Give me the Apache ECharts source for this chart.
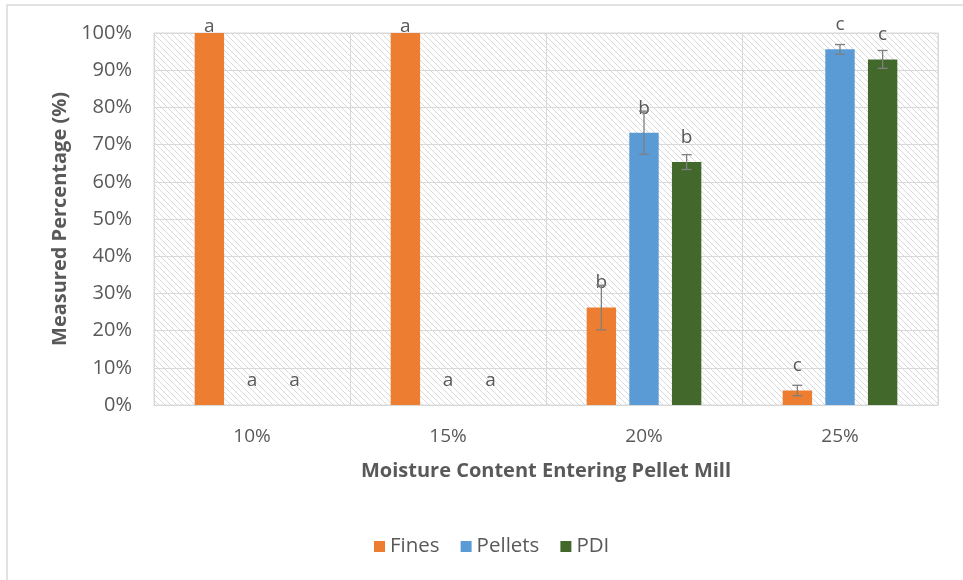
<!DOCTYPE html>
<html>
<head>
<meta charset="utf-8">
<script src="https://cdn.jsdelivr.net/npm/echarts@6/dist/echarts.min.js"></script>
<style>
html,body{margin:0;padding:0;background:#fff;}
#chart{width:963px;height:580px;}
</style>
</head>
<body>
<div id="chart"></div>
<script>
// ---- data ----
const categories = ['10%', '15%', '20%', '25%'];
const seriesNames = ['Fines', 'Pellets', 'PDI'];
const finesValues = [100, 100, 26.2, 3.9];
const pelletsValues = [0, 0, 73.2, 95.6];
const pdiValues = [0, 0, 65.3, 92.9];
const finesErr = [0, 0, 6, 1.4];
const pelletsErr = [0, 0, 5.8, 1.3];
const pdiErr = [0, 0, 2.0, 2.4];
const finesLetters = ['a', 'a', 'b', 'c'];
const pelletsLetters = ['a', 'a', 'b', 'c'];
const pdiLetters = ['a', 'a', 'b', 'c'];
const yTicks = [0, 10, 20, 30, 40, 50, 60, 70, 80, 90, 100];

// ---- styling ----
const colors = ['#ED7D31', '#5B9BD5', '#43682B'];
const FONT = '"Open Sans", "Noto Sans", sans-serif';
const TXT = '#595959';

// hatch pattern
const pc = document.createElement('canvas');
pc.width = 6; pc.height = 6;
const g = pc.getContext('2d');
g.fillStyle = '#ffffff';
g.fillRect(0, 0, 6, 6);
g.strokeStyle = '#d9d9d9';
g.lineWidth = 1;
g.beginPath();
g.moveTo(-1, -1); g.lineTo(7, 7);
g.moveTo(-1, 5); g.lineTo(1, 7);
g.moveTo(5, -1); g.lineTo(7, 1);
g.stroke();

const allValues = [finesValues, pelletsValues, pdiValues];
const allErr = [finesErr, pelletsErr, pdiErr];
const allLetters = [finesLetters, pelletsLetters, pdiLetters];

const BAR_FRAC = 0.15;
const GAP_FRAC = 0.45;

const barSeries = seriesNames.map((name, si) => ({
  name: name,
  type: 'bar',
  barWidth: (BAR_FRAC * 100) + '%',
  barGap: (GAP_FRAC * 100) + '%',
  itemStyle: { color: colors[si] },
  data: allValues[si].map((v, ci) => ({
    value: v,
    label: {
      show: true,
      position: 'top',
      distance: v >= 100 ? -3 : 15,
      formatter: allLetters[si][ci],
      color: TXT,
      fontFamily: FONT,
      fontSize: 19
    }
  })),
  z: 2
}));

const errData = [];
allErr.forEach((arr, si) => {
  arr.forEach((e, ci) => {
    if (e > 0) errData.push([ci, allValues[si][ci], e, si]);
  });
});

const errSeries = {
  type: 'custom',
  name: 'err',
  data: errData,
  z: 3,
  silent: true,
  encode: { x: 0, y: 1 },
  renderItem: function (params, api) {
    const ci = api.value(0), v = api.value(1), e = api.value(2), si = api.value(3);
    const band = api.size([1, 0])[0];
    const bw = band * BAR_FRAC;
    const off = (si - 1) * bw * (1 + GAP_FRAC);
    const top = api.coord([ci, v + e]);
    const bot = api.coord([ci, v - e]);
    const x = top[0] + off;
    const cap = 5;
    const st = { stroke: '#7f7f7f', lineWidth: 1.3 };
    return {
      type: 'group',
      children: [
        { type: 'line', shape: { x1: x, y1: top[1], x2: x, y2: bot[1] }, style: st },
        { type: 'line', shape: { x1: x - cap, y1: top[1], x2: x + cap, y2: top[1] }, style: st },
        { type: 'line', shape: { x1: x - cap, y1: bot[1], x2: x + cap, y2: bot[1] }, style: st }
      ]
    };
  }
};

const chart = echarts.init(document.getElementById('chart'), null, { renderer: 'canvas' });
chart.setOption({
  animation: false,
  backgroundColor: '#ffffff',
  graphic: [{
    type: 'rect',
    shape: { x: 7, y: 5, width: 980, height: 600 },
    style: { fill: 'none', stroke: '#d9d9d9', lineWidth: 1.5 },
    silent: true
  }],
  grid: {
    left: 154, right: 25, top: 33, bottom: 175,
    show: true,
    backgroundColor: { image: pc, repeat: 'repeat' },
    borderColor: '#d9d9d9',
    borderWidth: 1
  },
  legend: {
    data: seriesNames,
    left: 369,
    top: 531,
    icon: 'rect',
    itemWidth: 11,
    itemHeight: 11,
    itemGap: 21,
    textStyle: { color: TXT, fontFamily: FONT, fontSize: 20.5 }
  },
  xAxis: {
    type: 'category',
    data: categories,
    name: 'Moisture Content Entering Pellet Mill',
    nameLocation: 'middle',
    nameGap: 56,
    nameTextStyle: { color: TXT, fontFamily: FONT, fontSize: 20, fontWeight: 'bold' },
    axisTick: { show: false },
    axisLine: { show: true, lineStyle: { color: '#d9d9d9' } },
    axisLabel: { color: TXT, fontFamily: FONT, fontSize: 19, margin: 22 },
    splitLine: { show: true, lineStyle: { color: '#d9d9d9' } }
  },
  yAxis: {
    type: 'value',
    min: yTicks[0],
    max: yTicks[yTicks.length - 1],
    interval: yTicks[1] - yTicks[0],
    name: 'Measured Percentage (%)',
    nameLocation: 'middle',
    nameGap: 84,
    nameTextStyle: { color: TXT, fontFamily: FONT, fontSize: 20, fontWeight: 'bold' },
    axisLine: { show: false },
    axisTick: { show: false },
    axisLabel: { color: TXT, fontFamily: FONT, fontSize: 20, margin: 22, formatter: '{value}%' },
    splitLine: { show: true, lineStyle: { color: '#d9d9d9' } }
  },
  series: barSeries.concat([errSeries])
});
</script>
</body>
</html>
